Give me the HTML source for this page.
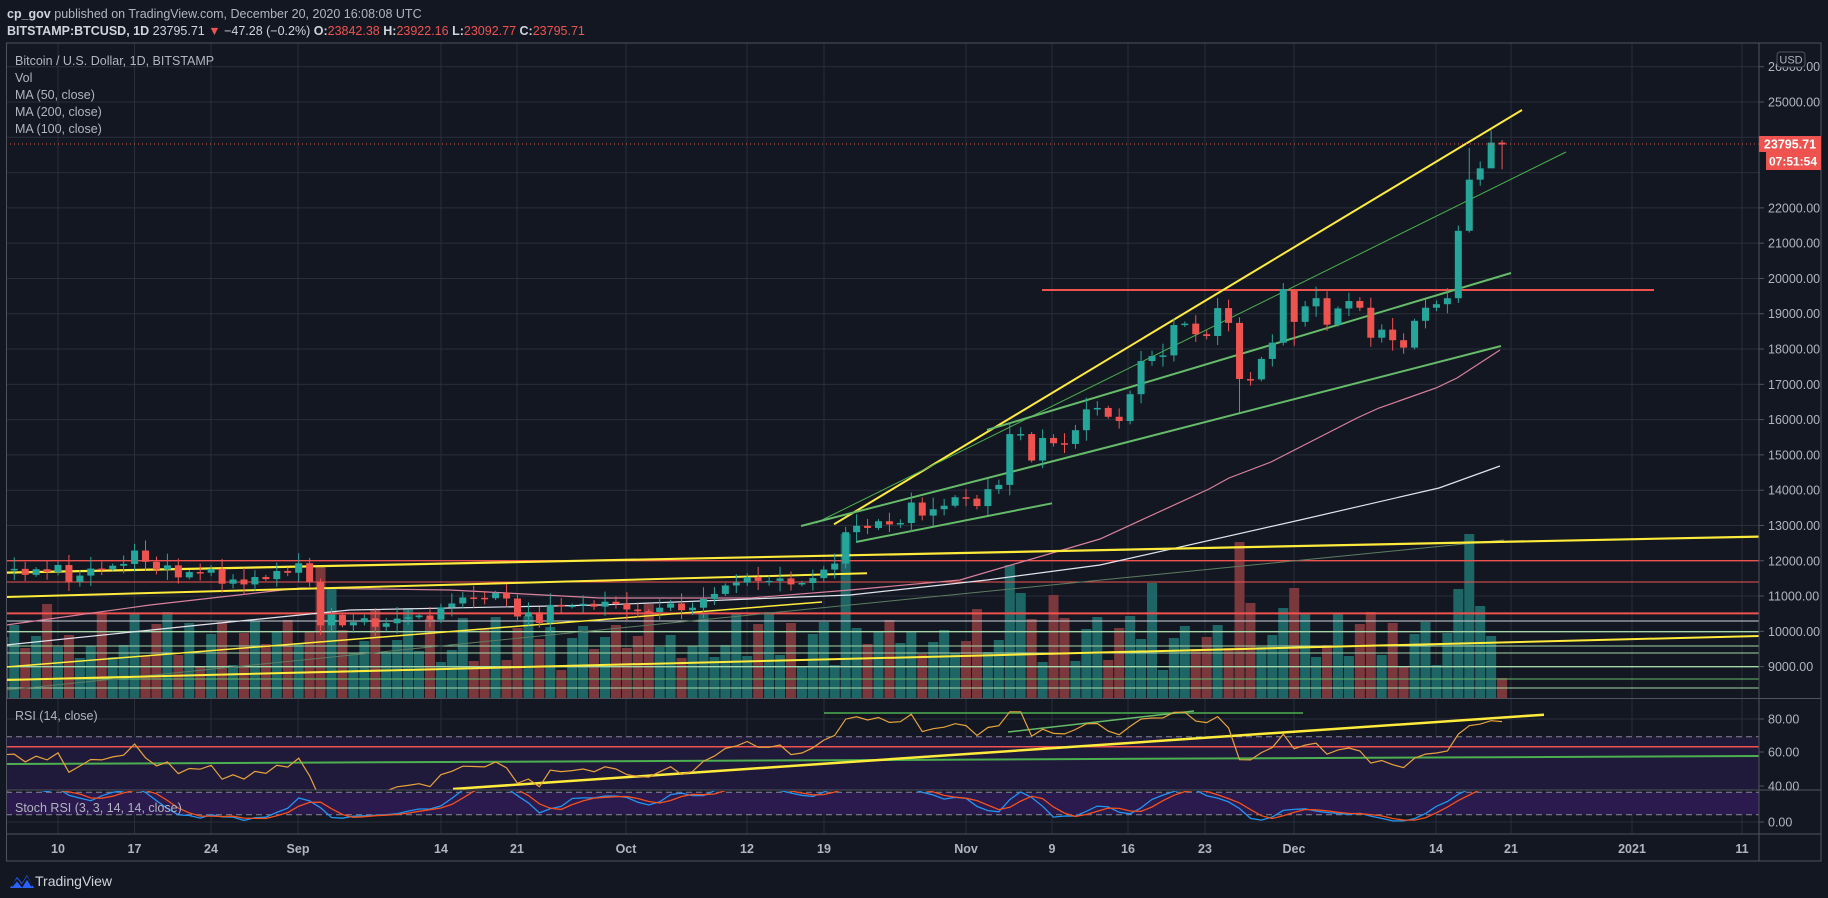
<!DOCTYPE html>
<html><head><meta charset="utf-8">
<style>
html,body{margin:0;padding:0;background:#131722;width:1828px;height:898px;overflow:hidden}
svg{display:block}
text{font-family:"Liberation Sans",sans-serif}
</style></head>
<body>
<svg id="s" width="1828" height="898" xmlns="http://www.w3.org/2000/svg">
<rect width="1828" height="898" fill="#131722"/>
<defs>
<clipPath id="cm"><rect x="6" y="43" width="1753" height="655"/></clipPath>
<clipPath id="cr"><rect x="6" y="699" width="1753" height="91"/></clipPath>
<clipPath id="cs"><rect x="6" y="791" width="1753" height="43"/></clipPath>
</defs>
<g id="grid"></g>
<g id="main" clip-path="url(#cm)"></g>
<g id="rsi" clip-path="url(#cr)"></g>
<g id="sto" clip-path="url(#cs)"></g>
<g id="ax"></g>
<text x="7" y="18" font-size="12.5" fill="#b2b5be"><tspan font-weight="bold" fill="#d1d4dc">cp_gov</tspan> published on TradingView.com, December 20, 2020 16:08:08 UTC</text>
<text x="7" y="35" font-size="12.5" fill="#d1d4dc"><tspan font-weight="bold">BITSTAMP:BTCUSD, 1D</tspan>  23795.71 <tspan fill="#ef5350">▼</tspan> −47.28 (−0.2%) <tspan font-weight="bold">O:</tspan><tspan fill="#ef5350">23842.38</tspan> <tspan font-weight="bold">H:</tspan><tspan fill="#ef5350">23922.16</tspan> <tspan font-weight="bold">L:</tspan><tspan fill="#ef5350">23092.77</tspan> <tspan font-weight="bold">C:</tspan><tspan fill="#ef5350">23795.71</tspan></text>
<g font-size="12.5" fill="#b2b5be">
<text x="15" y="65">Bitcoin / U.S. Dollar, 1D, BITSTAMP</text>
<text x="15" y="82">Vol</text>
<text x="15" y="99">MA (50, close)</text>
<text x="15" y="116">MA (200, close)</text>
<text x="15" y="133">MA (100, close)</text>
<text x="15" y="720">RSI (14, close)</text>
<text x="15" y="812">Stoch RSI (3, 3, 14, 14, close)</text>
</g>
<g transform="translate(10,870)">
<path d="M0 18 L7 7 L12 13 L17 5 L24 18 Z" fill="#2962ff"/>
<path d="M2 16 L7 10 L12 16 L17 8 L22 16" stroke="#131722" stroke-width="2" fill="none"/>
</g>
<text x="35" y="886" font-size="14" fill="#d1d4dc">TradingView</text>
</svg>
<script>
const NS="http://www.w3.org/2000/svg";
function el(p,t,a,txt){const e=document.createElementNS(NS,t);for(const k in a)e.setAttribute(k,a[k]);if(txt!==undefined)e.textContent=txt;document.getElementById(p).appendChild(e);return e;}
const C=[11810,11070,11220,11190,11750,11770,11600,11760,11680,11880,11400,11580,11780,11770,11860,11910,12290,11970,11750,11870,11530,11680,11660,11770,11350,11470,11330,11540,11480,11710,11660,
11930,11400,10170,10470,10170,10260,10370,10130,10230,10360,10400,10450,10330,10680,10790,10960,10950,10940,11090,10930,10420,10540,10240,10750,10700,10730,10780,10700,10840,10780,
10620,10570,10550,10670,10790,10600,10670,10920,11060,11300,11380,11540,11430,11430,11500,11330,11370,11510,11750,11920,12810,12990,12930,13120,13030,13070,13650,13280,13460,13560,13800,
13760,13550,14030,14150,15590,15590,14840,15480,15330,15310,15700,16290,16330,16080,15960,16720,17660,17800,17820,18680,18720,18420,18370,19160,18740,17150,17140,17720,18180,19700,
18770,19210,19440,18690,19150,19360,19170,18320,18550,18250,18040,18800,19170,19270,19440,21350,22800,23120,23850,23795.71];
const X=d=>58+(d-9)*10.94;
const Y=p=>102+(25000-p)*0.03529;
const vx=[58,134.5,211,298,441,517,626,747,824,966,1052,1128,1205,1294,1436,1511,1632,1742];
const vl=["10","17","24","Sep","14","21","Oct","12","19","Nov","9","16","23","Dec","14","21","2021","11"];
for(const x of vx) el("grid","line",{x1:x,x2:x,y1:43,y2:834,stroke:"#2a2e39","stroke-width":1});
for(let p=9000;p<=26000;p+=1000){const y=Y(p);el("grid","line",{x1:6,x2:1759,y1:y,y2:y,stroke:"#2a2e39"});}
[719,752,786].forEach(y=>el("grid","line",{x1:6,x2:1759,y1:y,y2:y,stroke:"#2a2e39"}));
el("grid","line",{x1:6,x2:1759,y1:822,y2:822,stroke:"#2a2e39"});
el("rsi","rect",{x:6,y:736.7,width:1753,height:54,fill:"#201a3a"});
el("rsi","line",{x1:6,x2:1759,y1:736.7,y2:736.7,stroke:"#868993","stroke-dasharray":"6 4"});
el("sto","rect",{x:6,y:792.3,width:1753,height:22.4,fill:"#2a1a4e"});
el("sto","line",{x1:6,x2:1759,y1:792.3,y2:792.3,stroke:"#868993","stroke-dasharray":"6 4"});
el("sto","line",{x1:6,x2:1759,y1:814.7,y2:814.7,stroke:"#868993","stroke-dasharray":"6 4"});
const N=C.length;
const ov={33:133,34:110,81:164,82:70,96:133,97:105,100:103,109:115,117:156,118:95,121:90,122:110,137:109,138:164,139:92,140:62,141:20};
for(let d=1;d<N;d++){
 const up=C[d]>=C[d-1];let h=ov[d]!==undefined?ov[d]:28+((d*37)%11)*5+((d*13)%5)*4;
 const x=X(d);el("main","rect",{x:x-5,y:698-h,width:10,height:h,fill:up?"#1e6565":"#7a373c"});
}
function ln(x1,y1,x2,y2,c,w,extra){const a={x1,y1,x2,y2,stroke:c,"stroke-width":w||1};Object.assign(a,extra||{});el("main","line",a);}
ln(6,560.7,1759,560.7,"#ef5350",1.3);
ln(6,582,1759,582,"#ef5350",1);
ln(6,613.4,1759,613.4,"#ef5350",2);
ln(6,621,1759,621,"#d1d4dc",1);
ln(6,631.7,1759,631.7,"#a5d6a7",1.3);
ln(6,646,1759,646,"#a5d6a7",1);
ln(6,653,1759,653,"#a5d6a7",1);
ln(6,666.7,1759,666.7,"#a5d6a7",1.3);
ln(6,679,1759,679,"#66bb6a",1);
ln(6,688,1759,688,"#a5d6a7",1);
ln(1042,290,1654,290,"#ef5350",2);
function pl(pts,c,w){el("main","polyline",{points:pts.map(p=>p.join(",")).join(" "),fill:"none",stroke:c,"stroke-width":w||1.2});}
pl([[6,690],[500,640],[900,600],[1504,540]],"#5d7d62",1);
pl([[6,645],[200,625],[350,610],[600,605],[850,595],[987,580],[1100,565],[1300,520],[1439,488],[1500,466]],"#e0e3eb",1.2);
pl([[6,625],[150,605],[300,588],[450,590],[600,598],[750,598],[850,590],[960,580],[1100,539],[1209,489],[1229,478],[1271,462],[1357,418],[1379,408],[1436,388],[1457,378],[1500,350]],"#d9819c",1.2);
ln(6,572.6,1759,536.6,"#ffeb3b",2.2);
ln(6,597,867,573.3,"#ffeb3b",2);
ln(6,680,1759,636,"#ffeb3b",2);
ln(6,667,822,602,"#ffeb3b",1.5);
ln(834,524.3,1522,110,"#ffeb3b",2);
ln(816,523,1566,152,"#4caf50",1);
ln(801,526,1501,346,"#66bb6a",2);
ln(987,430,1511,273,"#66bb6a",2);
ln(856,542,1052,503.3,"#66bb6a",2);
const HO={117:[18900,16200],140:[24200,23400],138:[23700,21300],116:[19400,18500],121:[19870,18100],122:[19700,18090],33:[11500,9900],16:[12480,11700]};
for(let d=1;d<N;d++){
 const o=C[d-1],c=C[d];const w=60+((d*53)%7)*45;
 let h=Math.max(o,c)+w,l=Math.min(o,c)-w*0.9;
 if(HO[d]){h=HO[d][0];l=HO[d][1];}
 if(d==N-1){h=23922;l=23092;}
 const col=c>=o?"#26a69a":"#ef5350";const x=X(d);
 el("main","line",{x1:x,x2:x,y1:Y(h),y2:Y(l),stroke:col,"stroke-width":1});
 const yt=Y(Math.max(o,c)),yb=Y(Math.min(o,c));
 el("main","rect",{x:x-3.5,y:yt,width:7,height:Math.max(yb-yt,1.5),fill:col});
}
el("main","line",{x1:6,x2:1759,y1:144,y2:144,stroke:"#ef5350","stroke-dasharray":"1 3"});
let ag=60,al=30;const R=[];
for(let d=1;d<N;d++){const ch=C[d]-C[d-1];const g=Math.max(ch,0),lo=Math.max(-ch,0);ag=(ag*13+g)/14;al=(al*13+lo)/14;R[d]=100-100/(1+ag/al);}
const RY=v=>719+(80-v)*1.66;
let pts=[];for(let d=1;d<N;d++)pts.push(X(d).toFixed(1)+","+RY(R[d]).toFixed(1));
el("rsi","line",{x1:6,x2:1759,y1:746.7,y2:746.7,stroke:"#ef5350","stroke-width":1.5});
el("rsi","line",{x1:6,x2:1759,y1:764,y2:756,stroke:"#4caf50","stroke-width":2});
el("rsi","line",{x1:824,x2:1303,y1:713,y2:713,stroke:"#4caf50","stroke-width":1.5});
el("rsi","line",{x1:1008,x2:1194,y1:732,y2:711,stroke:"#66bb6a","stroke-width":1.5});
el("rsi","line",{x1:453,x2:1544,y1:789,y2:714.7,stroke:"#ffeb3b","stroke-width":2.5});
el("rsi","polyline",{points:pts.join(" "),fill:"none",stroke:"#e8a33a","stroke-width":1.2});
const S=[];for(let d=1;d<N;d++){let mn=1e9,mx=-1e9;for(let j=Math.max(1,d-13);j<=d;j++){mn=Math.min(mn,R[j]);mx=Math.max(mx,R[j]);}S[d]=mx>mn?(R[d]-mn)/(mx-mn)*100:50;}
const K=[],D=[];for(let d=1;d<N;d++){let s=0,n=0;for(let j=Math.max(1,d-2);j<=d;j++){s+=S[j];n++;}K[d]=s/n;}
for(let d=1;d<N;d++){let s=0,n=0;for(let j=Math.max(1,d-2);j<=d;j++){s+=K[j];n++;}D[d]=s/n;}
const SY=v=>822-v*0.367;
let pk=[],pd=[];for(let d=1;d<N;d++){pk.push(X(d).toFixed(1)+","+SY(K[d]).toFixed(1));pd.push(X(d).toFixed(1)+","+SY(D[d]).toFixed(1));}
el("sto","polyline",{points:pk.join(" "),fill:"none",stroke:"#2196f3","stroke-width":1.3});
el("sto","polyline",{points:pd.join(" "),fill:"none",stroke:"#f4511e","stroke-width":1.3});
const F="#50535e";
el("ax","rect",{x:6.5,y:43,width:1814.5,height:818,fill:"none",stroke:F});
el("ax","line",{x1:1759,x2:1759,y1:43,y2:861,stroke:F});
el("ax","line",{x1:6,x2:1821,y1:698.5,y2:698.5,stroke:F});
el("ax","line",{x1:6,x2:1821,y1:790,y2:790,stroke:F});
el("ax","line",{x1:6,x2:1821,y1:834,y2:834,stroke:F});
for(let p=9000;p<=26000;p+=1000){if(p==23000||p==24000)continue;const y=Y(p);
 el("ax","line",{x1:1759,x2:1764,y1:y,y2:y,stroke:F});
 el("ax","text",{x:1768,y:y+4.5,"font-size":"12.5",fill:"#b2b5be"},p+".00");}
[[719,"80.00"],[752,"60.00"],[786,"40.00"],[822,"0.00"]].forEach(a=>{el("ax","line",{x1:1759,x2:1764,y1:a[0],y2:a[0],stroke:F});el("ax","text",{x:1768,y:a[0]+4.5,"font-size":"12.5",fill:"#b2b5be"},a[1]);});
vx.forEach((x,i)=>el("ax","text",{x:x,y:853,"font-size":"12.5",fill:"#b2b5be","text-anchor":"middle","font-weight":"bold"},vl[i]));
el("ax","rect",{x:1777,y:52,width:28,height:15,rx:3,fill:"#131722",stroke:"#50535e"});
el("ax","text",{x:1791,y:63.5,"font-size":"11","fill":"#b2b5be","text-anchor":"middle"},"USD");
el("ax","rect",{x:1759,y:136,width:62,height:16,fill:"#ef5350"});
el("ax","text",{x:1790,y:148.5,"font-size":"12.5",fill:"#fff","text-anchor":"middle","font-weight":"bold"},"23795.71");
el("ax","rect",{x:1766,y:152,width:55,height:18,fill:"#ef5350"});
el("ax","text",{x:1793,y:165.5,"font-size":"12",fill:"#fff","text-anchor":"middle","font-weight":"bold"},"07:51:54");
</script>
</body></html>
